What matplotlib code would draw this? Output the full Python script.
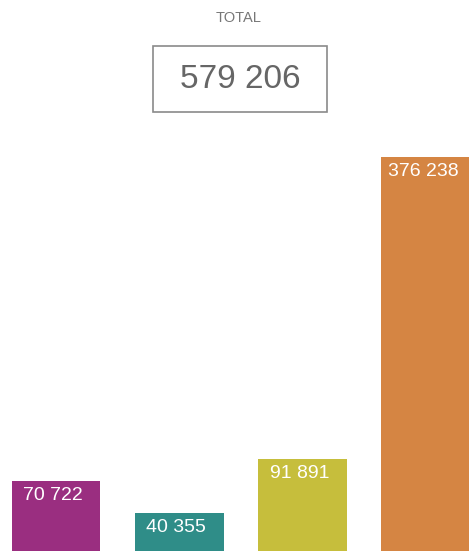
import matplotlib.pyplot as plt
from matplotlib.patches import Rectangle

# values
values = [70722, 40355, 91891, 376238]
labels = ['70 722', '40 355', '91 891', '376 238']
colors = ['#9a2e80', '#2f8d88', '#c6be3c', '#d58543']
total_label = '579 206'

plt.rcParams['font.family'] = ['Liberation Sans', 'DejaVu Sans']

fig = plt.figure(figsize=(4.69, 5.51), dpi=100)
ax = fig.add_axes([0, 0, 1, 1])

X = range(len(values))
bars = ax.bar(X, values, width=0.72, color=colors, edgecolor='none')
for b, lab in zip(bars, labels):
    ax.annotate(lab, (b.get_x() + b.get_width() / 2, b.get_height()),
                xytext=(-3, -6), textcoords='offset pixels',
                ha='center', va='top', color='white', fontsize=14)

# baseline sits a few pixels under the bottom edge
ax.set_xlim(-0.454, 3.35)
ax.set_ylim(4990, 523800)
ax.axis('off')

# total box on top
fig.text(239 / 469, 1 - 18 / 551, 'TOTAL', ha='center', va='center',
         fontsize=10.5, color='#777777')
fig.patches.append(Rectangle((153 / 469, 1 - 112 / 551), 174 / 469, 66 / 551,
                             transform=fig.transFigure, fill=False,
                             edgecolor='#8a8a8a', linewidth=1.2))
fig.text(240 / 469, 1 - 79 / 551, total_label, ha='center', va='center',
         fontsize=24, color='#666666')

plt.savefig('out.png', dpi=100)
